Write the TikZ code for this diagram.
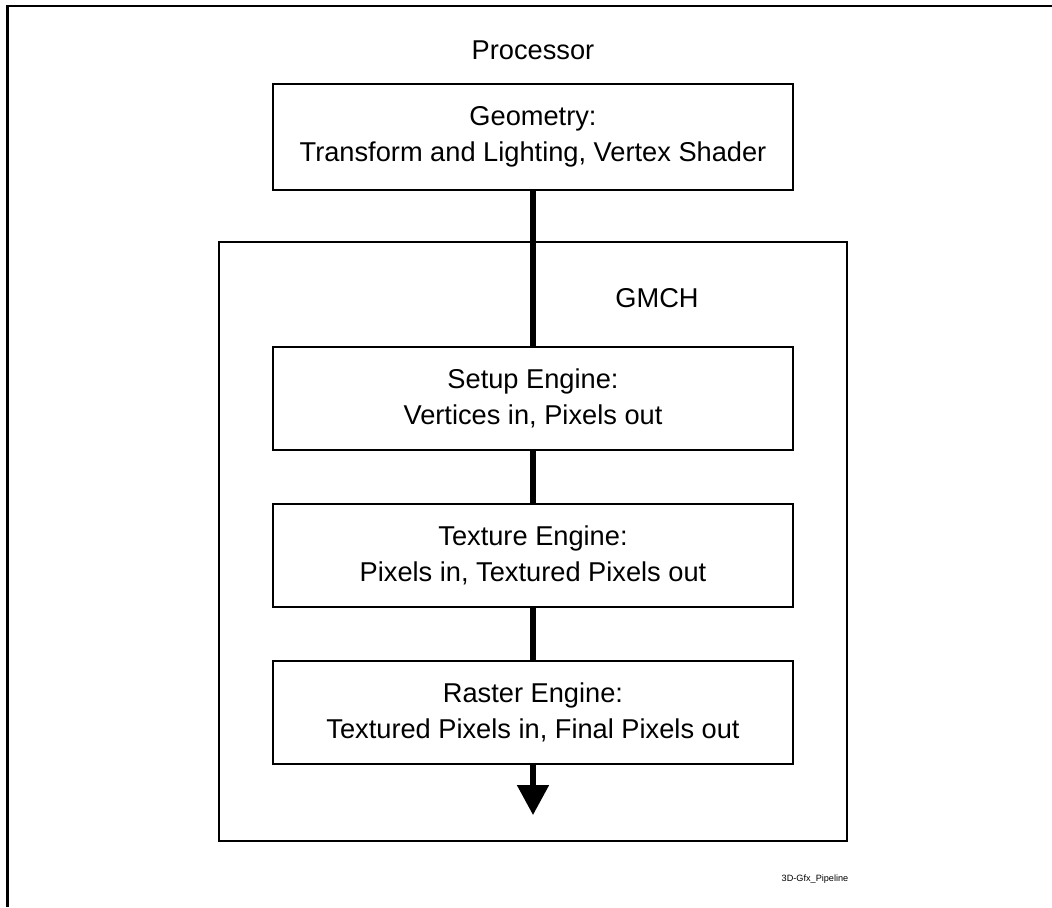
\documentclass[tikz,border=0pt]{standalone}
\usepackage{fontspec}
\setmainfont{Liberation Sans}
\usetikzlibrary{arrows.meta}
\tikzset{
  blk/.style={draw, line width=1.15pt, minimum width=10.4cm, minimum height=2.06cm,
    align=center, font=\fontsize{15.5}{20.4}\selectfont},
  conn/.style={line width=2.9pt},
}
\begin{document}
\begin{tikzpicture}[x=0.02cm,y=-0.02cm]
        \useasboundingbox (0,0) rectangle (1052,907);
        \draw[line width=1.2pt] (7.5,907) -- (7.5,6) -- (1052,6);
        \draw (533,541.5) node[draw,line width=1.15pt,minimum width=12.56cm,minimum height=11.98cm](gmch){};
        \draw (533,50) node[font=\fontsize{15.5}{20.4}\selectfont](proc){Processor};
        \draw (657,298) node[font=\fontsize{15.5}{20.4}\selectfont](gmchlbl){GMCH};
        \draw (533,137) node[blk,minimum height=2.12cm](geo){Geometry:\\Transform and Lighting, Vertex Shader};
        \draw (533,398.5) node[blk](setup){Setup Engine:\\Vertices in, Pixels out};
        \draw (533,555.5) node[blk](tex){Texture Engine:\\Pixels in, Textured Pixels out};
        \draw (533,712.5) node[blk](ras){Raster Engine:\\Textured Pixels in, Final Pixels out};
        \coordinate (out) at (533,815);
        \draw (815,879) node[font=\fontsize{5.2}{6}\selectfont](tag){3D-Gfx\_Pipeline};
        \draw[conn]
          (geo) -- (setup)
          (setup) -- (tex)
          (tex) -- (ras)
        ;
        \draw[conn,-{Triangle[width=0.62cm,length=0.6cm]}] (ras) -- (out);
      \end{tikzpicture}
\end{document}
